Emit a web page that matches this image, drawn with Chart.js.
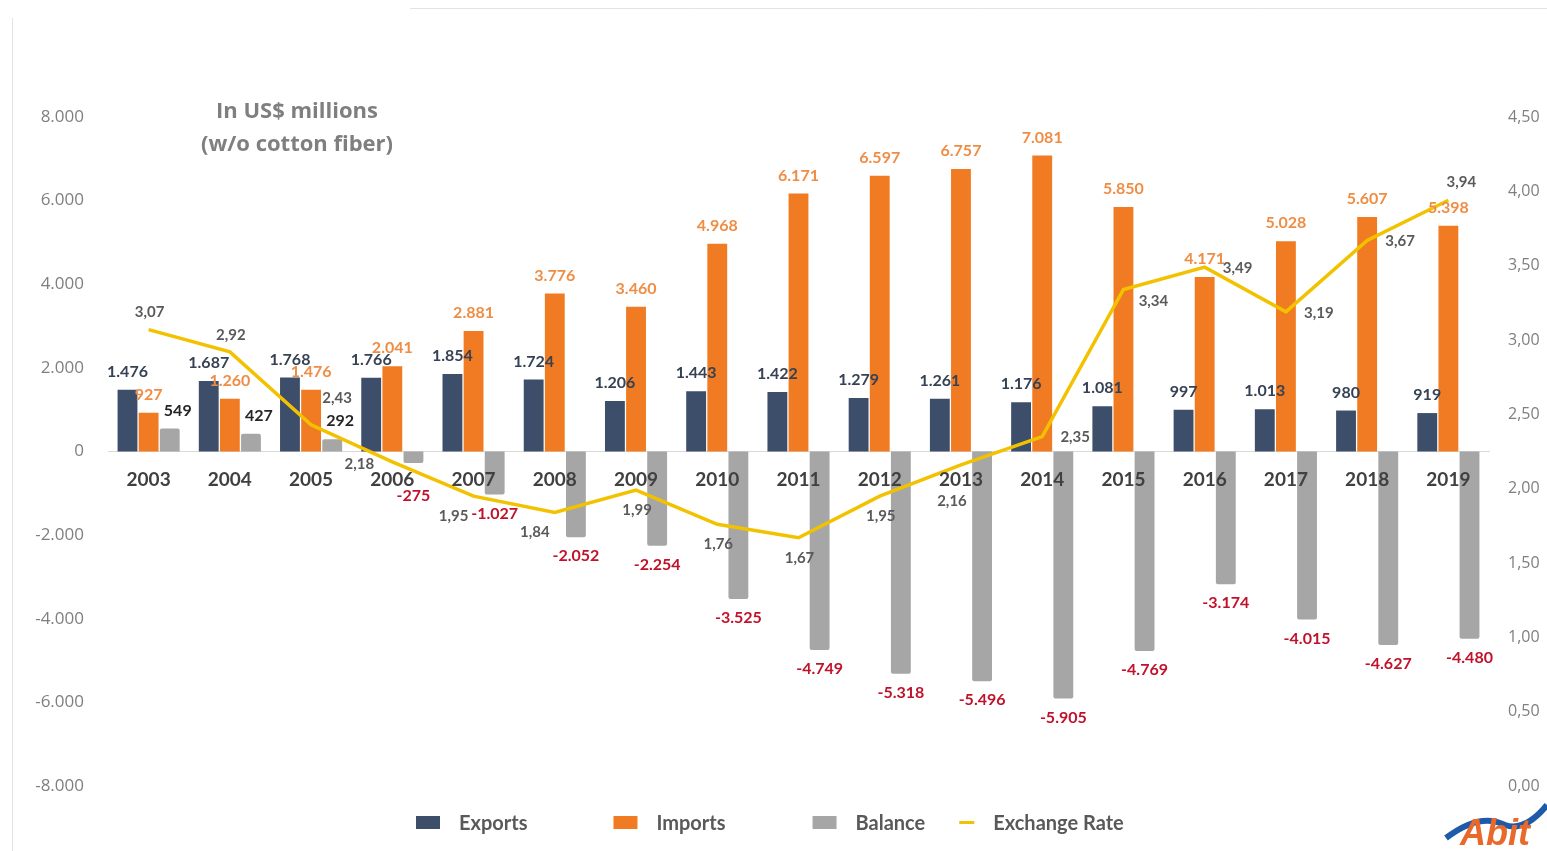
<!DOCTYPE html>
<html>
<head>
<meta charset="utf-8">
<script src="https://cdn.jsdelivr.net/npm/chart.js@4.4.0/dist/chart.umd.min.js"></script>
<style>
html,body{margin:0;padding:0;background:#fff;}
#wrap{position:relative;width:1547px;height:851px;overflow:hidden;}
canvas{display:block;}
</style>
</head>
<body>
<div id="wrap"><canvas id="c" width="1547" height="851"></canvas></div>
<script>
// ---------- DATA ----------
const years = ['2003','2004','2005','2006','2007','2008','2009','2010','2011','2012','2013','2014','2015','2016','2017','2018','2019'];
const exportsData = [1476, 1687, 1768, 1766, 1854, 1724, 1206, 1443, 1422, 1279, 1261, 1176, 1081, 997, 1013, 980, 919];
const importsData = [927, 1260, 1476, 2041, 2881, 3776, 3460, 4968, 6171, 6597, 6757, 7081, 5850, 4171, 5028, 5607, 5398];
const balanceData = [549, 427, 292, -275, -1027, -2052, -2254, -3525, -4749, -5318, -5496, -5905, -4769, -3174, -4015, -4627, -4480];
const exchangeRate = [3.07, 2.92, 2.43, 2.18, 1.95, 1.84, 1.99, 1.76, 1.67, 1.95, 2.16, 2.35, 3.34, 3.49, 3.19, 3.67, 3.94];
const seriesNames = ['Exports', 'Imports', 'Balance', 'Exchange Rate'];
const titleLines = ['In US$ millions', '(w/o cotton fiber)'];
// label placement keywords for the exchange-rate labels (style only)
const rateLabelSide = ['above','above','rightAbove','left','belowLeft','belowLeft','below','below','below','below','belowFar','right','rightBelow','right','right','right','aboveRight'];

// ---------- STYLE ----------
const C_EXP = '#3C4E69';
const C_IMP = '#F07B22';
const C_BAL = '#A6A6A6';
const C_RATE = '#F2C200';
const sideOffsets = {
  above: [1, -17], right: [33, 1], left: [-33, 2], below: [1, 20], belowFar: [-9, 36],
  belowLeft: [-20, 20], rightAbove: [26, -27], rightBelow: [30, 12], aboveRight: [13, -18]
};

const fmtInt = v => (v < 0 ? '-' : '') + Math.abs(v).toString().replace(/\B(?=(\d{3})+(?!\d))/g, '.');
const fmtRate = v => v.toFixed(2).replace('.', ',');

const labelPlugin = {
  id: 'valueLabels',
  afterDatasetsDraw(chart) {
    const ctx = chart.ctx;
    const y0 = chart.scales.y.getPixelForValue(0);
    ctx.save();
    ctx.textAlign = 'center';
    ctx.textBaseline = 'middle';
    ctx.font = 'bold 16px Lato';
    chart.getDatasetMeta(0).data.forEach((el, i) => {
      ctx.fillStyle = '#364254';
      ctx.fillText(fmtInt(exportsData[i]), el.x, el.y - 18);
    });
    chart.getDatasetMeta(1).data.forEach((el, i) => {
      ctx.fillStyle = '#EF8D45';
      ctx.fillText(fmtInt(importsData[i]), el.x, el.y - 18);
    });
    chart.getDatasetMeta(2).data.forEach((el, i) => {
      const v = balanceData[i];
      if (v >= 0) {
        ctx.fillStyle = '#262626';
        ctx.fillText(fmtInt(v), el.x + 8, el.y - 18);
      } else {
        ctx.fillStyle = '#C0122A';
        ctx.fillText(fmtInt(v), el.x, Math.max(el.y + 19, y0 + 44));
      }
    });
    ctx.font = 'bold 15px Lato';
    chart.getDatasetMeta(3).data.forEach((el, i) => {
      const o = sideOffsets[rateLabelSide[i]];
      ctx.fillStyle = '#5A5A5A';
      ctx.fillText(fmtRate(exchangeRate[i]), el.x + o[0], el.y + o[1]);
    });
    ctx.restore();
  }
};

const decorPlugin = {
  id: 'decor',
  beforeDraw(chart) {
    const ctx = chart.ctx;
    ctx.save();
    ctx.fillStyle = '#fff';
    ctx.fillRect(0, 0, chart.width, chart.height);
    ctx.strokeStyle = '#E3E3E3';
    ctx.lineWidth = 1;
    ctx.beginPath();
    ctx.moveTo(12.5, 18); ctx.lineTo(12.5, chart.height);
    ctx.moveTo(410, 8.5); ctx.lineTo(chart.width, 8.5);
    ctx.stroke();
    // title
    const a = chart.chartArea;
    ctx.fillStyle = '#7F7F7F';
    ctx.font = 'bold 22px "Open Sans"';
    ctx.textAlign = 'center';
    ctx.textBaseline = 'middle';
    ctx.fillText(titleLines[0], a.left + 189, 112);
    ctx.fillText(titleLines[1], a.left + 189, 145);
    ctx.restore();
  },
  afterDraw(chart) {
    const ctx = chart.ctx;
    ctx.save();
    // custom legend
    const colors = [C_EXP, C_IMP, C_BAL, C_RATE];
    const gaps = [86, 87, 34];
    ctx.font = 'bold 20px Lato';
    ctx.textBaseline = 'middle';
    ctx.textAlign = 'left';
    const cy = 824;
    let x = 416;
    seriesNames.forEach((name, i) => {
      ctx.fillStyle = colors[i];
      if (i < 3) {
        ctx.fillRect(x, cy - 8, 24, 13);
      } else {
        ctx.fillRect(x, cy - 3, 15, 3);
      }
      const bw = i < 3 ? 24 : 15;
      const tx = x + bw + 19;
      ctx.fillStyle = '#595959';
      ctx.fillText(name, tx, cy);
      x = tx + ctx.measureText(name).width + (gaps[i] || 0);
    });
    // logo
    ctx.strokeStyle = '#1F5AA8';
    ctx.lineWidth = 6;
    ctx.beginPath();
    ctx.moveTo(1446, 838);
    ctx.quadraticCurveTo(1480, 812, 1505, 825);
    ctx.quadraticCurveTo(1525, 832, 1547, 805);
    ctx.stroke();
    ctx.fillStyle = '#E8692A';
    ctx.font = 'italic bold 36px "Liberation Sans"';
    ctx.textBaseline = 'alphabetic';
    ctx.fillText('Abit', 1460, 845);
    ctx.restore();
  }
};

Chart.defaults.font.family = 'Lato';

new Chart(document.getElementById('c'), {
  type: 'bar',
  data: {
    labels: years,
    datasets: [
      { label: seriesNames[0], data: exportsData, backgroundColor: C_EXP, yAxisID: 'y', order: 1,
        categoryPercentage: 0.78, barPercentage: 0.94 },
      { label: seriesNames[1], data: importsData, backgroundColor: C_IMP, yAxisID: 'y', order: 1,
        categoryPercentage: 0.78, barPercentage: 0.94 },
      { label: seriesNames[2], data: balanceData, backgroundColor: C_BAL, yAxisID: 'y', order: 1,
        categoryPercentage: 0.78, barPercentage: 0.94, borderRadius: 2, borderSkipped: 'start' },
      { label: seriesNames[3], type: 'line', data: exchangeRate, borderColor: C_RATE, backgroundColor: C_RATE,
        borderWidth: 3.5, pointRadius: 0, tension: 0, yAxisID: 'y1', order: 0 }
    ]
  },
  options: {
    responsive: false,
    animation: false,
    devicePixelRatio: 1,
    layout: { padding: { top: 117, bottom: 65, left: 0, right: 0 } },
    plugins: { legend: { display: false }, tooltip: { enabled: false }, title: { display: false } },
    scales: {
      x: {
        position: { y: 0 },
        grid: { display: false, drawTicks: false },
        border: { display: true, color: '#D9D9D9', width: 1 },
        ticks: { z: 1, color: '#404040', font: { size: 19, weight: 'bold', family: 'Lato' }, padding: 17, autoSkip: false, maxRotation: 0 }
      },
      y: {
        position: 'left',
        min: -8000, max: 8000,
        grid: { display: false, drawTicks: false },
        border: { display: false },
        ticks: { stepSize: 2000, color: '#7F7F7F', padding: 24, font: { size: 17, family: 'Open Sans' },
          callback: v => fmtInt(v) },
        afterFit: s => { s.width = 108; }
      },
      y1: {
        position: 'right',
        min: 0, max: 4.5,
        grid: { display: false, drawTicks: false },
        border: { display: false },
        ticks: { stepSize: 0.5, color: '#7F7F7F', padding: 19, font: { size: 16, family: 'Open Sans' },
          callback: v => fmtRate(v) },
        afterFit: s => { s.width = 58; }
      }
    }
  },
  plugins: [decorPlugin, labelPlugin]
});
</script>
</body>
</html>
